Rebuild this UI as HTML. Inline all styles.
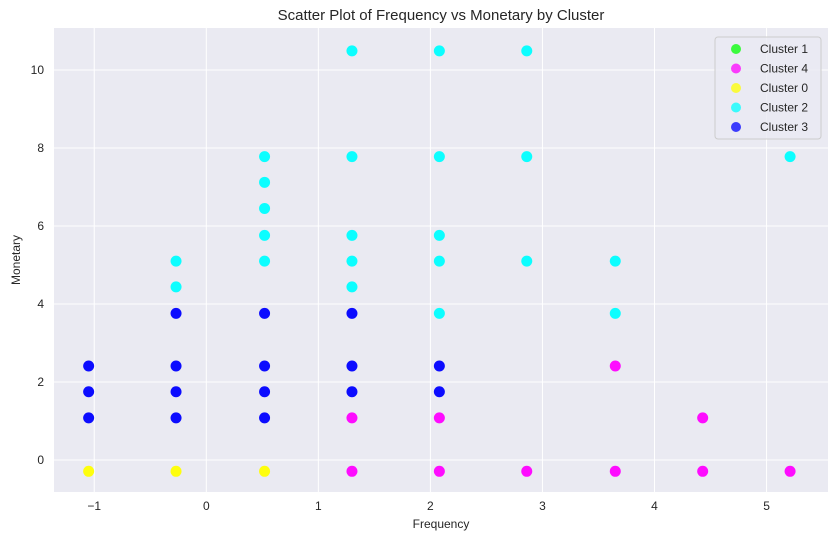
<!DOCTYPE html>
<html><head><meta charset="utf-8"><style>
body{margin:0;background:#fff;font-family:"Liberation Sans",sans-serif}
svg text{font-family:"Liberation Sans",sans-serif;fill:#262626}
</style></head><body>
<svg id="chart" width="838" height="541">
<rect x="54" y="28" width="774" height="464" fill="#eaeaf2"/>
<g id="grid"></g><g id="pts"></g><g id="ticks"></g>
<text x="441" y="20" font-size="15" text-anchor="middle">Scatter Plot of Frequency vs Monetary by Cluster</text>
<text x="441" y="528" font-size="12" text-anchor="middle">Frequency</text>
<text x="20" y="260" font-size="12" text-anchor="middle" transform="rotate(-90 20 260)">Monetary</text>
<g id="legend">
<rect x="715" y="37" width="106" height="102" rx="3" fill="#eaeaf2" stroke="#cccccc" fill-opacity="0.8"/>
</g>
</svg>
<script>
const xTicks=[-1,0,1,2,3,4,5];
const yTicks=[0,2,4,6,8,10];
const clusterNames=["Cluster 1","Cluster 4","Cluster 0","Cluster 2","Cluster 3"];
const clusterColors=["#00ff00","#ff00ff","#ffff00","#00ffff","#0000ff"];
const c1X=[];const c1Y=[];
const c0X=[-1.05,-0.27,0.52];
const c0Y=[-0.29,-0.29,-0.29];
const c4X=[1.30,1.30,2.08,2.08,2.86,3.65,3.65,4.43,4.43,5.21];
const c4Y=[1.08,-0.29,1.08,-0.29,-0.29,2.41,-0.29,1.08,-0.29,-0.29];
const c2X=[-0.27,-0.27,0.52,0.52,0.52,0.52,0.52,1.30,1.30,1.30,1.30,1.30,2.08,2.08,2.08,2.08,2.08,2.86,2.86,2.86,3.65,3.65,5.21];
const c2Y=[5.10,4.44,7.78,7.12,6.45,5.76,5.10,10.49,7.78,5.76,5.10,4.44,10.49,7.78,5.76,5.10,3.76,10.49,7.78,5.10,5.10,3.76,7.78];
const c3X=[-1.05,-1.05,-1.05,-0.27,-0.27,-0.27,-0.27,0.52,0.52,0.52,0.52,1.30,1.30,1.30,2.08,2.08];
const c3Y=[1.08,1.75,2.41,1.08,1.75,2.41,3.76,1.08,1.75,2.41,3.76,1.75,2.41,3.76,2.41,1.75];
const NS="http://www.w3.org/2000/svg";
const sx=v=>206.3+v*112.05, sy=v=>460-v*39;
const L=54,R=828,T=28,B=492;
function mk(tag,attrs,parent){const e=document.createElementNS(NS,tag);for(const k in attrs)e.setAttribute(k,attrs[k]);parent.appendChild(e);return e;}
const grid=document.getElementById('grid'),ticks=document.getElementById('ticks'),pts=document.getElementById('pts');
xTicks.forEach(t=>{
 const l=mk('line',{x1:sx(t),x2:sx(t),y1:T,y2:B,stroke:'#fff','stroke-width':1},grid);
 
 
 const tx=mk('text',{x:sx(t),y:B+18,'font-size':12,'text-anchor':'middle'},ticks);
 tx.textContent=t<0?'\u2212'+(-t):String(t);
 
 
});
yTicks.forEach(t=>{
 const l=mk('line',{x1:L,x2:R,y1:sy(t),y2:sy(t),stroke:'#fff','stroke-width':1},grid);
 
 
 const tx=mk('text',{x:L-10,y:sy(t)+4,'font-size':12,'text-anchor':'end'},ticks);
 tx.textContent=String(t);
 
 
});
const series=[[c1X,c1Y],[c4X,c4Y],[c0X,c0Y],[c2X,c2Y],[c3X,c3Y]];
series.forEach((s,i)=>{
 s[0].forEach((x,j)=>{
  const c=mk('circle',{cx:sx(x),cy:sy(s[1][j]),r:5.5,fill:clusterColors[i],'fill-opacity':0.95},pts);
  
  
 });
});
const lg=document.getElementById('legend');
clusterNames.forEach((n,i)=>{
 const y=49+i*19.5;
 const c=mk('circle',{cx:736,cy:y,r:5,fill:clusterColors[i],'fill-opacity':0.75},lg);
 
 
 const t=mk('text',{x:760,y:y+4,'font-size':12},lg);
 t.textContent=n;
 
 
});
</script>
</body></html>
